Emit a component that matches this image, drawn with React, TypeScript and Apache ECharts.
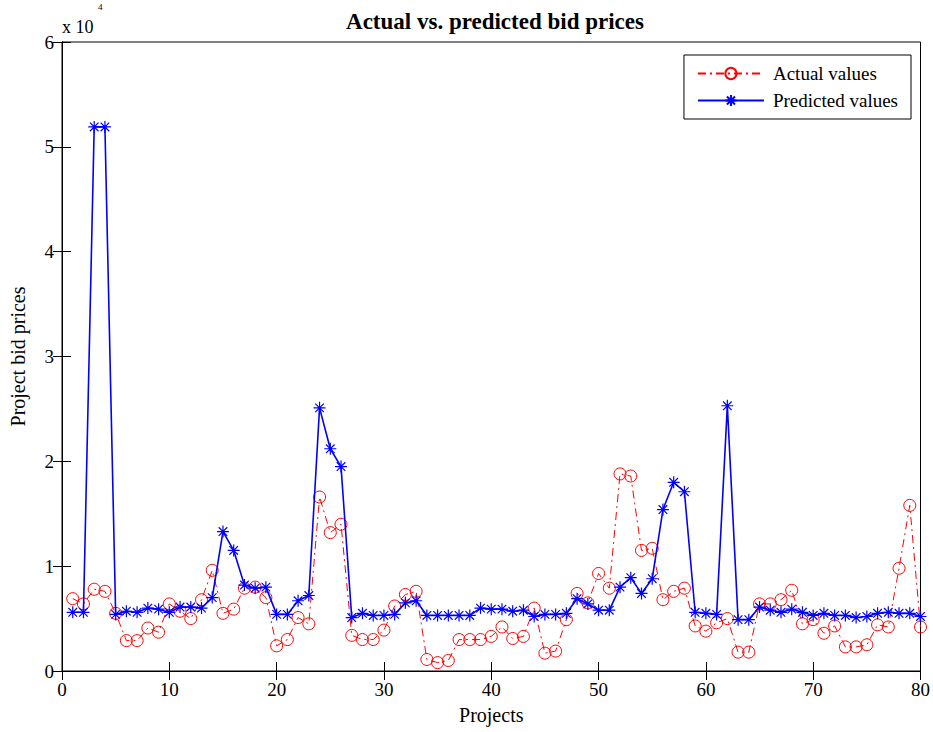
import React, { useEffect, useRef } from "react";
import * as echarts from "echarts";

// Values in units of 10^4
const actualValues = [
  0.69, 0.64, 0.78, 0.76, 0.55, 0.29, 0.29, 0.41, 0.37, 0.64,
  0.57, 0.50, 0.68, 0.96, 0.55, 0.59, 0.79, 0.80, 0.70, 0.24,
  0.30, 0.51, 0.45, 1.66, 1.32, 1.40, 0.34, 0.30, 0.30, 0.39,
  0.62, 0.73, 0.76, 0.11, 0.08, 0.10, 0.30, 0.30, 0.30, 0.33,
  0.42, 0.31, 0.33, 0.60, 0.17, 0.19, 0.49, 0.74, 0.65, 0.93,
  0.79, 1.88, 1.86, 1.15, 1.17, 0.68, 0.76, 0.79, 0.43, 0.38,
  0.46, 0.50, 0.18, 0.18, 0.64, 0.64, 0.68, 0.77, 0.45, 0.49,
  0.36, 0.43, 0.23, 0.23, 0.25, 0.44, 0.42, 0.98, 1.58, 0.42,
];

const predictedValues = [
  0.56, 0.56, 5.19, 5.19, 0.54, 0.57, 0.56, 0.60, 0.59, 0.56,
  0.61, 0.61, 0.60, 0.70, 1.33, 1.15, 0.82, 0.79, 0.80, 0.54,
  0.54, 0.67, 0.72, 2.51, 2.12, 1.95, 0.51, 0.55, 0.53, 0.53,
  0.54, 0.65, 0.67, 0.53, 0.53, 0.53, 0.53, 0.53, 0.60, 0.59,
  0.59, 0.57, 0.58, 0.52, 0.54, 0.54, 0.55, 0.69, 0.64, 0.58,
  0.58, 0.80, 0.89, 0.74, 0.88, 1.54, 1.80, 1.71, 0.56, 0.55,
  0.54, 2.53, 0.49, 0.49, 0.61, 0.58, 0.56, 0.59, 0.56, 0.53,
  0.55, 0.53, 0.53, 0.51, 0.52, 0.55, 0.56, 0.55, 0.55, 0.52,
];

const seriesNames = ["Actual values", "Predicted values"];
const xRange = [0, 80];
const yRange = [0, 6];

const FONT = '"Liberation Serif", "Times New Roman", serif';
const STAR =
  "path://M0,-6L0,6M-6,0L6,0M-4.3,-4.3L4.3,4.3M-4.3,4.3L4.3,-4.3";

export default function App() {
  const ref = useRef<HTMLDivElement>(null);

  useEffect(() => {
    if (!ref.current) return;
    const chart = echarts.init(ref.current, undefined, { renderer: "svg" });

    const axisCommon = {
      axisLine: { show: true, lineStyle: { color: "#000", width: 1 } },
      axisTick: { show: true, inside: true, length: 9, lineStyle: { color: "#000" } },
      splitLine: { show: false },
    };

    chart.setOption({
      animation: false,
      backgroundColor: "#fff",
      title: {
        text: "Actual vs. predicted bid prices",
        left: 490,
        top: 5,
        textAlign: "center",
        textStyle: { fontFamily: FONT, fontSize: 23, fontWeight: "bold", color: "#000" },
      },
      graphic: [
        {
          type: "text",
          x: 62,
          y: 27,
          style: {
            text: "x 10",
            fontFamily: FONT,
            fontSize: 18,
            fill: "#000",
            verticalAlign: "middle",
            align: "left",
          },
        },
        {
          type: "text",
          x: 98,
          y: 7,
          style: {
            text: "4",
            fontFamily: FONT,
            fontSize: 9,
            fill: "#000",
            verticalAlign: "middle",
            align: "left",
          },
        },
      ],
      legend: {
        orient: "vertical",
        right: 22,
        top: 55,
        backgroundColor: "#fff",
        borderColor: "#000",
        borderWidth: 1,
        padding: [9, 13, 9, 13],
        itemWidth: 66,
        itemHeight: 14,
        itemGap: 8,
        textStyle: { fontFamily: FONT, fontSize: 19, color: "#000", padding: [0, 0, 0, 4] },
        data: seriesNames,
      },
      grid: { left: 62, right: 11, top: 42, bottom: 61, show: true, borderColor: "#000", borderWidth: 1 },
      xAxis: [
        {
          type: "value",
          min: xRange[0],
          max: xRange[1],
          interval: 10,
          name: "Projects",
          nameLocation: "middle",
          nameGap: 34,
          nameTextStyle: { fontFamily: FONT, fontSize: 20, color: "#000" },
          axisLabel: { fontFamily: FONT, fontSize: 19, color: "#000", margin: 9 },
          ...axisCommon,
        },
        {
          type: "value",
          position: "top",
          min: xRange[0],
          max: xRange[1],
          interval: 10,
          axisLabel: { show: false },
          ...axisCommon,
        },
      ],
      yAxis: [
        {
          type: "value",
          min: yRange[0],
          max: yRange[1],
          interval: 1,
          name: "Project bid prices",
          nameLocation: "middle",
          nameGap: 34,
          nameTextStyle: { fontFamily: FONT, fontSize: 20, color: "#000" },
          axisLabel: { fontFamily: FONT, fontSize: 19, color: "#000", margin: 8 },
          ...axisCommon,
        },
        {
          type: "value",
          position: "right",
          min: yRange[0],
          max: yRange[1],
          interval: 1,
          axisLabel: { show: false },
          ...axisCommon,
        },
      ],
      series: [
        {
          name: seriesNames[0],
          type: "line",
          data: actualValues.map((v, i) => [i + 1, v]),
          symbol: "circle",
          symbolSize: 12,
          silent: true,
          lineStyle: { color: "#ff0000", width: 1, type: [8, 4, 2, 4] },
          itemStyle: { color: "rgba(255,255,255,0)", borderColor: "#ff0000", borderWidth: 1 },
          emphasis: { disabled: true },
          z: 2,
        },
        {
          name: seriesNames[1],
          type: "line",
          data: predictedValues.map((v, i) => [i + 1, v]),
          symbol: STAR,
          symbolSize: 12,
          silent: true,
          lineStyle: { color: "#0000ff", width: 1.6 },
          itemStyle: { color: "#0000ff", borderColor: "#0000ff", borderWidth: 1.2 },
          emphasis: { disabled: true },
          z: 3,
        },
      ],
    });

    return () => chart.dispose();
  }, []);

  return (
    <div
      ref={ref}
      style={{ position: "fixed", left: 0, top: 0, width: 933, height: 732 }}
    />
  );
}
